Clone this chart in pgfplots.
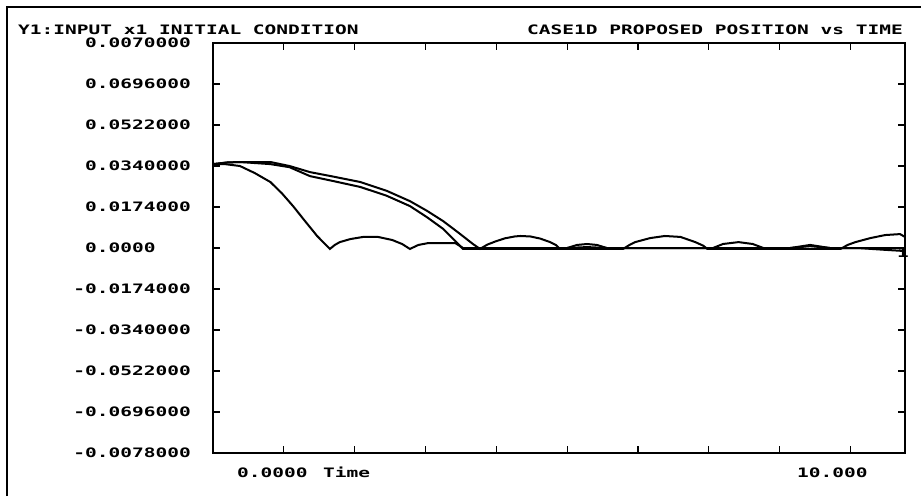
\documentclass[border=0pt]{standalone}
\usepackage{fontspec}
\usepackage{pgfplots}
\pgfplotsset{compat=1.18}
\newfontfamily\dotfont[FakeStretch=1.5]{DejaVu Sans Mono}
\newcommand\df{\dotfont\bfseries\fontsize{13}{13}\selectfont}

\begin{document}
\begin{tikzpicture}[x=1pt,y=1pt]
\useasboundingbox (0,0) rectangle (921,496);
% outer frame of the print
\draw[line width=1.4pt] (7,0) -- (7,489) -- (921,489);
\begin{axis}[
    at={(213pt,43pt)}, anchor=south west,
    scale only axis, width=692pt, height=410pt,
    xmin=0, xmax=9.77, ymin=-0.087, ymax=0.087,
    scaled y ticks=false,
    xtick={1,2,...,9}, xticklabels={},
    ytick={-0.087,-0.0696,-0.0522,-0.0348,-0.0174,0,0.0174,0.0348,0.0522,0.0696,0.087},
    yticklabels={-0.0078000,-0.0696000,-0.0522000,-0.0340000,-0.0174000,{0.0000\phantom{000}},0.0174000,0.0340000,0.0522000,0.0696000,0.0070000},
    yticklabel style={font=\df, anchor=east, inner sep=0pt, xshift=-22pt},
    tick align=inside, major tick length=7pt,
    tick style={black, line width=1.2pt},
    axis line style={line width=1.6pt},
    clip=false,
]
% fast curve
\addplot[black, line width=2pt] coordinates {
 (0,0.0356)(0.17,0.0356)(0.38,0.0348)(0.59,0.0318)(0.81,0.0280)(0.97,0.0233)
 (1.13,0.0178)(1.30,0.0114)(1.47,0.0051)(1.65,-0.0004)
 (1.72,0.0013)(1.79,0.0025)(1.94,0.0038)(2.12,0.0047)(2.33,0.0047)(2.53,0.0034)
 (2.67,0.0017)(2.78,-0.0004)
 (2.90,0.0013)(3.04,0.0021)(3.42,0.0021)(3.53,0)
 (3.77,0)(5.0,0)(5.28,0.0004)(5.56,0)(8.15,0)(8.43,0.0008)(8.71,0)(9.77,0)
};
% inner slow curve
\addplot[black, line width=2pt] coordinates {
 (0,0.0356)(0.20,0.0363)(0.38,0.0365)(0.81,0.0356)(1.08,0.0343)(1.37,0.0305)
 (1.70,0.0284)(2.08,0.0259)(2.45,0.0222)(2.78,0.0178)(3.02,0.0131)(3.25,0.0081)
 (3.42,0.0030)(3.53,-0.0004)
 (3.77,-0.0004)(4.90,-0.0004)(5.0,0)(5.14,0.0013)(5.28,0.0017)(5.42,0.0013)(5.56,0)
 (7.06,0)(7.20,0.0017)(7.42,0.0025)(7.62,0.0017)(7.77,0)
 (8.15,0)(8.43,0.0013)(8.71,0)(9.10,0)(9.50,-0.0008)(9.77,-0.0013)
};
% outer slow curve
\addplot[black, line width=2pt] coordinates {
 (0,0.0356)(0.20,0.0363)(0.38,0.0365)(0.81,0.0365)(1.08,0.0348)(1.37,0.0322)
 (1.70,0.0303)(2.08,0.0280)(2.45,0.0243)(2.78,0.0199)(3.02,0.0158)(3.25,0.0114)
 (3.47,0.0064)(3.67,0.0017)(3.77,-0.0004)
 (3.87,0.0014)(3.98,0.0027)(4.12,0.0041)(4.26,0.0049)(4.34,0.0051)(4.48,0.0049)
 (4.62,0.0040)(4.76,0.0025)(4.84,0.0013)(4.90,-0.0004)
 (5.79,-0.0004)(5.88,0.0013)(5.96,0.0025)(6.17,0.0042)(6.38,0.0051)(6.60,0.0047)
 (6.81,0.0025)(6.92,0.0010)(6.98,-0.0004)
 (8.86,-0.0004)(8.96,0.0013)(9.07,0.0025)(9.28,0.0042)(9.49,0.0055)(9.70,0.0059)(9.77,0.0047)
};
\end{axis}
% titles and labels
\node[font=\df, anchor=west, inner sep=0pt] at (18,466) {Y1:INPUT x1 INITIAL CONDITION};
\node[font=\df, anchor=east, inner sep=0pt] at (903,466) {CASE1D PROPOSED POSITION vs TIME};
\node[font=\df, anchor=base west, inner sep=0pt] at (237,19) {0.0000};
\node[font=\df, anchor=base west, inner sep=0pt] at (323,19) {Time};
\node[font=\df, anchor=base west, inner sep=0pt] at (797,19) {10.000};
\node[font=\df, anchor=west, inner sep=0pt] at (897,243) {1};
\end{tikzpicture}
\end{document}
